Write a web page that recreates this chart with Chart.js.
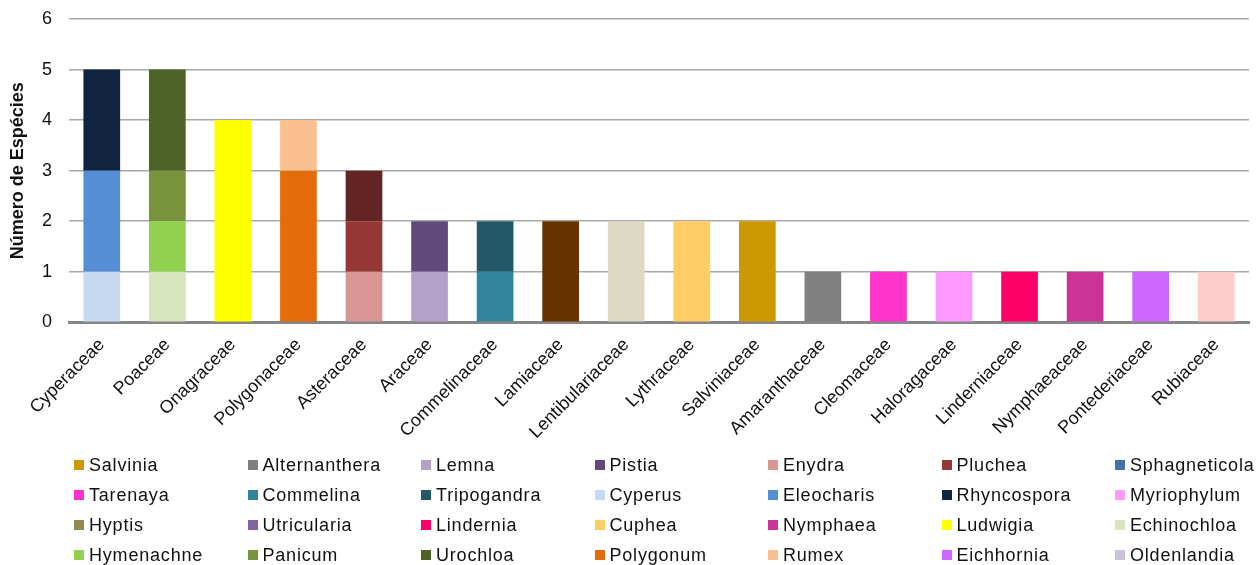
<!DOCTYPE html>
<html>
<head>
<meta charset="utf-8">
<title>Número de Espécies por família</title>
<script src="https://cdn.jsdelivr.net/npm/chart.js@4/dist/chart.umd.min.js"></script>
<style>
  html, body { margin: 0; padding: 0; background: #fff; width: 1256px; height: 565px; overflow: hidden; }
  #wrap { position: relative; width: 1256px; height: 565px; overflow: hidden; }
  #chartBox { position: absolute; left: 0; top: 0; width: 1256px; height: 460px; }
  #legend {
    position: absolute; left: 74px; top: 450px;
    display: grid; grid-template-columns: repeat(7, 173.5px); grid-auto-rows: 30px;
    font-family: 'Liberation Sans', Arial, sans-serif; font-size: 18px; letter-spacing: 0.8px; color: #111;
  }
  .item { display: flex; align-items: center; white-space: nowrap; }
  .box { width: 10px; height: 10px; margin-right: 5px; flex: none; }
</style>
</head>
<body>
<div id="wrap">
  <div id="chartBox"><canvas id="familyChart"></canvas></div>
  <div id="legend"></div>
</div>
<script>
// Families on the x axis
const families = ['Cyperaceae', 'Poaceae', 'Onagraceae', 'Polygonaceae', 'Asteraceae', 'Araceae',
  'Commelinaceae', 'Lamiaceae', 'Lentibulariaceae', 'Lythraceae', 'Salviniaceae', 'Amaranthaceae',
  'Cleomaceae', 'Haloragaceae', 'Linderniaceae', 'Nymphaeaceae', 'Pontederiaceae', 'Rubiaceae'];

// Genera (series), in legend order
const genera = ['Salvinia', 'Alternanthera', 'Lemna', 'Pistia', 'Enydra', 'Pluchea', 'Sphagneticola',
  'Tarenaya', 'Commelina', 'Tripogandra', 'Cyperus', 'Eleocharis', 'Rhyncospora', 'Myriophylum',
  'Hyptis', 'Utricularia', 'Lindernia', 'Cuphea', 'Nymphaea', 'Ludwigia', 'Echinochloa',
  'Hymenachne', 'Panicum', 'Urochloa', 'Polygonum', 'Rumex', 'Eichhornia', 'Oldenlandia'];

// Family each genus belongs to
const genusFamily = ['Salviniaceae', 'Amaranthaceae', 'Araceae', 'Araceae', 'Asteraceae', 'Asteraceae', 'Asteraceae',
  'Cleomaceae', 'Commelinaceae', 'Commelinaceae', 'Cyperaceae', 'Cyperaceae', 'Cyperaceae', 'Haloragaceae',
  'Lamiaceae', 'Lentibulariaceae', 'Linderniaceae', 'Lythraceae', 'Nymphaeaceae', 'Onagraceae', 'Poaceae',
  'Poaceae', 'Poaceae', 'Poaceae', 'Polygonaceae', 'Polygonaceae', 'Pontederiaceae', 'Rubiaceae'];

// Number of species per genus
const speciesCount = [2, 1, 1, 1, 1, 1, 1,
  1, 1, 1, 1, 2, 2, 1,
  2, 2, 1, 2, 1, 4, 1,
  1, 1, 2, 3, 1, 1, 1];

const legendColors = ['#cc9900', '#808080', '#b3a2c7', '#604a7b', '#d99694', '#953735', '#4472a8',
  '#ff33cc', '#31859c', '#215968', '#c6d9f1', '#558ed5', '#10243f', '#ff99ff',
  '#948a54', '#8064a2', '#ff0066', '#ffcc66', '#cc3399', '#ffff00', '#d7e4bd',
  '#92d050', '#77933c', '#4f6228', '#e46c0a', '#fac090', '#cc66ff', '#ccc1da'];

const barColors = ['#cc9900', '#808080', '#b3a2c7', '#604a7b', '#d99694', '#953735', '#632523',
  '#ff33cc', '#31859c', '#215968', '#c6d9f1', '#558ed5', '#10243f', '#ff99ff',
  '#663300', '#ddd9c3', '#ff0066', '#ffcc66', '#cc3399', '#ffff00', '#d7e4bd',
  '#92d050', '#77933c', '#4f6228', '#e46c0a', '#fac090', '#cc66ff', '#ffcccc'];

const yTicks = [0, 1, 2, 3, 4, 5, 6];

const FONT = "'Liberation Sans', Arial, sans-serif";

// one dataset per genus, value only in its own family
const datasets = genera.map((g, i) => ({
  label: g,
  data: families.map(f => (f === genusFamily[i] ? speciesCount[i] : null)),
  backgroundColor: barColors[i],
  borderWidth: 0,
  categoryPercentage: 1,
  barPercentage: 0.56
}));

const ctx = document.getElementById('familyChart').getContext('2d');
const familyChart = new Chart(ctx, {
  type: 'bar',
  data: { labels: families, datasets: datasets },
  options: {
    responsive: true,
    maintainAspectRatio: false,
    animation: false,
    layout: { padding: { top: 19, right: 7, bottom: 5, left: 0 } },
    plugins: {
      legend: { display: false },
      tooltip: { enabled: false }
    },
    scales: {
      x: {
        stacked: true,
        grid: { display: false, drawTicks: false },
        border: { color: '#868686', width: 3 },
        ticks: {
          autoSkip: false,
          maxRotation: 45,
          minRotation: 45,
          padding: 12,
          color: '#111',
          font: { family: FONT, size: 18 }
        }
      },
      y: {
        stacked: true,
        min: 0,
        max: 6,
        afterFit(axis) {
          axis.width = 69;
          axis.paddingTop = 0;
          axis.paddingBottom = 0;
        },
        afterBuildTicks(axis) { axis.ticks = yTicks.map(v => ({ value: v })); },
        grid: { color: '#a8a8a8', lineWidth: 1.5, drawTicks: false },
        border: { display: false },
        ticks: {
          padding: 17,
          color: '#111',
          font: { family: FONT, size: 18 }
        },
        title: {
          display: true,
          text: 'Número de Espécies',
          color: '#111',
          padding: { top: 7, bottom: 0 },
          font: { family: FONT, size: 18, weight: 'bold' }
        }
      }
    }
  }
});

// legend drawn as a grid under the chart
const legendDiv = document.getElementById('legend');
genera.forEach((g, i) => {
  const item = document.createElement('div');
  item.className = 'item';
  item.innerHTML = `<span class="box" style="background:${legendColors[i]}"></span><span>${g}</span>`;
  legendDiv.appendChild(item);
});
</script>
</body>
</html>
